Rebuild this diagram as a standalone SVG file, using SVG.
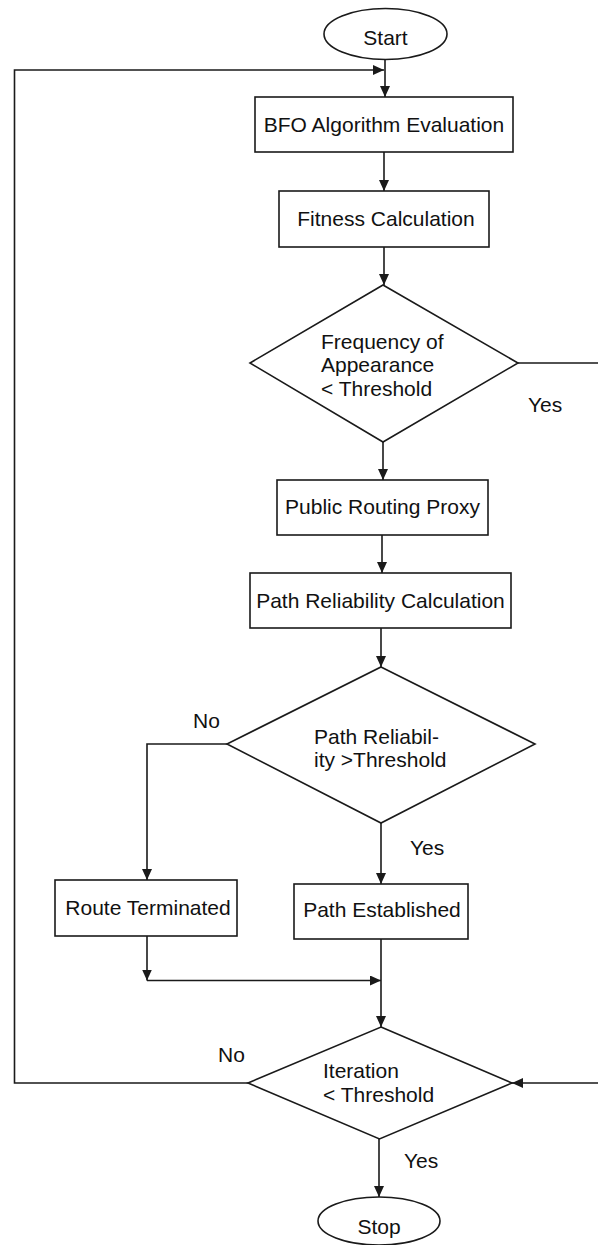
<svg xmlns="http://www.w3.org/2000/svg" width="598" height="1245" viewBox="0 0 598 1245">
<style>
.s{fill:#fff;stroke:#1a1a1a;stroke-width:1.6}
.c{fill:none;stroke:#1a1a1a;stroke-width:1.6;marker-end:url(#a)}
.n{fill:none;stroke:#1a1a1a;stroke-width:1.6}
text{font-family:"Liberation Sans",Arial,sans-serif;font-size:21px;fill:#111}
</style>
<defs>
<marker id="a" markerUnits="userSpaceOnUse" markerWidth="11" markerHeight="10" refX="11" refY="5" orient="auto">
<path d="M0,0 L11,5 L0,10 z" fill="#1a1a1a"/>
</marker>
</defs>
<rect width="598" height="1245" fill="#fff"/>
<g id="connectors">
<path class="c" d="M385,59.5 V97"/>
<path class="c" d="M248,1083 H14.5 V70 H384"/>
<path class="c" d="M384,152 V191"/>
<path class="c" d="M384,247 V285"/>
<path class="c" d="M383,442 V480"/>
<path class="c" d="M382,535 V573"/>
<path class="c" d="M381,628 V667"/>
<path class="c" d="M227,744 H147 V880"/>
<path class="c" d="M381,823 V884"/>
<path class="c" d="M147,936 V980.5"/>
<path class="c" d="M147,980.5 H381"/>
<path class="c" d="M381,939 V1027"/>
<path class="c" d="M518,363 H601 V1083 H512"/>
<path class="c" d="M379,1139 V1197"/>
<text x="528" y="412">Yes</text>
<text x="193" y="728">No</text>
<text x="410" y="855">Yes</text>
<text x="218" y="1062">No</text>
<text x="404" y="1168">Yes</text>
</g>
<g id="start">
<ellipse class="s" cx="385.5" cy="34" rx="61.5" ry="25.5"/>
<text x="385.5" y="45" text-anchor="middle">Start</text>
</g>
<g id="bfo">
<rect class="s" x="255" y="97" width="258" height="55"/>
<text x="384" y="132" text-anchor="middle">BFO Algorithm Evaluation</text>
</g>
<g id="fitness">
<rect class="s" x="279" y="191" width="210" height="56"/>
<text x="386" y="226" text-anchor="middle">Fitness Calculation</text>
</g>
<g id="freq">
<polygon class="s" points="383,285 518,363 383,442 250,363"/>
<text x="321" y="349">Frequency of</text>
<text x="321" y="372">Appearance</text>
<text x="321" y="396">&lt; Threshold</text>
</g>
<g id="proxy">
<rect class="s" x="277" y="480" width="211" height="55"/>
<text x="382.5" y="514" text-anchor="middle">Public Routing Proxy</text>
</g>
<g id="prcalc">
<rect class="s" x="250" y="573" width="261" height="55"/>
<text x="380.5" y="608" text-anchor="middle">Path Reliability Calculation</text>
</g>
<g id="prdec">
<polygon class="s" points="381,667 535,744 381,823 227,744"/>
<text x="314" y="744">Path Reliabil-</text>
<text x="314" y="767">ity &gt;Threshold</text>
</g>
<g id="terminated">
<rect class="s" x="55" y="880" width="182" height="56"/>
<text x="148" y="915" text-anchor="middle">Route Terminated</text>
</g>
<g id="established">
<rect class="s" x="294" y="884" width="174" height="55"/>
<text x="382" y="917" text-anchor="middle">Path Established</text>
</g>
<g id="iter">
<polygon class="s" points="381,1027 512,1083 379.5,1139 248,1083"/>
<text x="323" y="1078">Iteration</text>
<text x="323" y="1102">&lt; Threshold</text>
</g>
<g id="stop">
<ellipse class="s" cx="379" cy="1221" rx="61" ry="24"/>
<text x="379" y="1234" text-anchor="middle">Stop</text>
</g>
</svg>
